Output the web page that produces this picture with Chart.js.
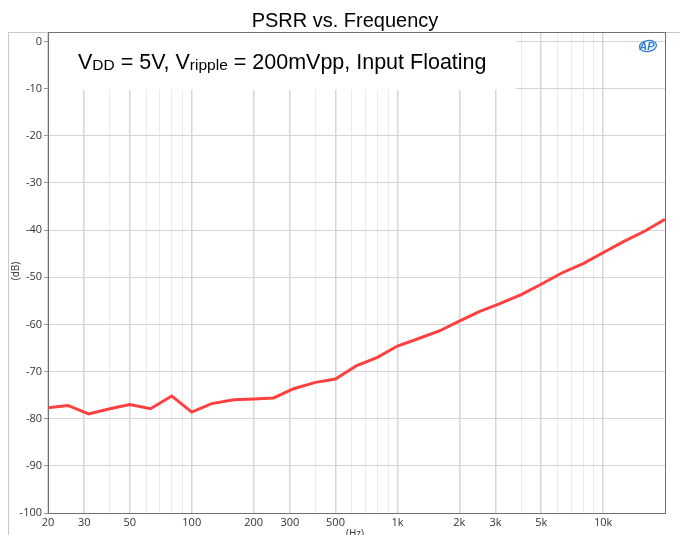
<!DOCTYPE html>
<html>
<head>
<meta charset="utf-8">
<script src="https://cdn.jsdelivr.net/npm/chart.js@4/dist/chart.umd.min.js"></script>
<style>
html,body{margin:0;padding:0;background:#fff;}
#wrap{position:relative;width:680px;height:535px;}
</style>
</head>
<body>
<div id="wrap"><canvas id="c" width="680" height="535"></canvas></div>
<script>
const title = 'PSRR vs. Frequency';
const xTitle = '(Hz)';
const yTitle = '(dB)';
const freqHz = [20,25,31.5,40,50,63,80,100,125,160,200,250,315,400,500,630,800,1000,1250,1600,2000,2500,3150,4000,5000,6300,8000,10000,12500,16000,20000];
const psrrDb = [-77.7,-77.2,-79.0,-77.9,-77.0,-77.9,-75.2,-78.6,-76.8,-76.0,-75.8,-75.6,-73.6,-72.3,-71.6,-68.8,-67.0,-64.6,-63.1,-61.4,-59.3,-57.3,-55.6,-53.7,-51.5,-49.1,-47.1,-44.8,-42.5,-40.2,-37.7];
const xGridValues = [20,30,40,50,60,70,80,90,100,200,300,400,500,600,700,800,900,1000,2000,3000,4000,5000,6000,7000,8000,9000,10000,20000];
const xTickLabels = {20:'20',30:'30',50:'50',100:'100',200:'200',300:'300',500:'500',1000:'1k',2000:'2k',3000:'3k',5000:'5k',10000:'10k'};
const yTickValues = [-100,-90,-80,-70,-60,-50,-40,-30,-20,-10,0];

const PL=48, PR=665, PT=32, PB=513;

const decor = {
  id:'decor',
  beforeDatasetsDraw(chart){
    const ctx = chart.ctx;
    ctx.save();
    ctx.fillStyle='#fff';
    ctx.fillRect(PL+1, PT+1, 515-PL, 90-PT-1);
    let x = 78, base = 69;
    ctx.fillStyle='#000';
    ctx.textBaseline='alphabetic';
    ctx.textAlign='left';
    const big='21.5px "Liberation Sans", Arial', small='15.5px "Liberation Sans", Arial';
    const parts = [
      ['V',big,0],
      ['DD',small,1],
      [' = 5V, V',big,0],
      ['ripple',small,1],
      [' = 200mVpp, Input Floating',big,0]
    ];
    for(const [t,f,dy] of parts){
      ctx.font=f;
      ctx.fillText(t,x,base+dy);
      x += ctx.measureText(t).width;
    }
    ctx.strokeStyle='#2e7fd2';
    ctx.lineWidth=1.3;
    ctx.beginPath();
    ctx.ellipse(648,46,8.5,5.5,-0.15,0,Math.PI*2);
    ctx.stroke();
    ctx.fillStyle='#2e7fd2';
    ctx.font='italic bold 11px "Liberation Sans", Arial';
    ctx.textAlign='center';
    ctx.fillText('AP',647,50);
    ctx.restore();
  },
  afterDraw(chart){
    const ctx = chart.ctx;
    ctx.save();
    ctx.strokeStyle='#c8c8c8';
    ctx.lineWidth=1;
    ctx.beginPath();
    ctx.moveTo(8.5,535); ctx.lineTo(8.5,PT+0.5); ctx.lineTo(680,PT+0.5);
    ctx.stroke();
    ctx.strokeStyle='#707070';
    ctx.strokeRect(PL+0.5, PT+0.5, PR-PL, PB-PT);
    ctx.fillStyle='#000';
    ctx.font='20px "Liberation Sans", Arial';
    ctx.textAlign='center';
    ctx.textBaseline='alphabetic';
    ctx.fillText(title, 345, 27);
    ctx.fillStyle='#333';
    ctx.font='10px "Open Sans"';
    ctx.fillText(xTitle, 355, 537);
    ctx.translate(19,271);
    ctx.rotate(-Math.PI/2);
    ctx.textAlign='center';
    ctx.fillText(yTitle, 0, 0);
    ctx.restore();
  }
};

new Chart(document.getElementById('c'), {
  type:'line',
  data:{
    datasets:[{
      data: freqHz.map((f,i)=>({x:f,y:psrrDb[i]})),
      borderColor:'#ff4040',
      borderWidth:3,
      pointRadius:0,
      tension:0,
      fill:false
    }]
  },
  options:{
    responsive:false,
    animation:false,
    devicePixelRatio:1,
    layout:{padding:{top:PT,right:680-PR,left:0,bottom:0}},
    plugins:{legend:{display:false},title:{display:false},tooltip:{enabled:false}},
    scales:{
      x:{
        type:'logarithmic',
        min:20,max:20000,
        afterBuildTicks(s){ s.ticks = xGridValues.map(v=>({value:v})); },
        afterFit(s){ s.height = 535-PB; },
        border:{display:false},
        grid:{
          drawTicks:false,
          color(ctx){ const v = ctx.tick && ctx.tick.value; return (xTickLabels[v]!==undefined) ? '#d6d6d6' : '#ebebeb'; },
          lineWidth(ctx){ const v = ctx.tick && ctx.tick.value; return (xTickLabels[v]!==undefined) ? 1.5 : 1; }
        },
        ticks:{
          autoSkip:false, maxRotation:0,
          padding:3,
          color:'#333',
          font:{family:'"Open Sans"', size:11},
          callback(v){ return xTickLabels[v]!==undefined ? xTickLabels[v] : ''; }
        }
      },
      y:{
        min:-100,max:2.0,
        afterBuildTicks(s){ s.ticks = yTickValues.map(v=>({value:v})); },
        afterFit(s){ s.width = PL; },
        border:{display:false},
        grid:{color:'#d4d4d4', lineWidth:1, tickLength:4, tickColor:'#999'},
        ticks:{
          padding:2,
          color:'#333',
          font:{family:'"Open Sans"', size:11},
          callback(v){ return String(v); }
        }
      }
    }
  },
  plugins:[decor]
});
</script>
</body>
</html>
